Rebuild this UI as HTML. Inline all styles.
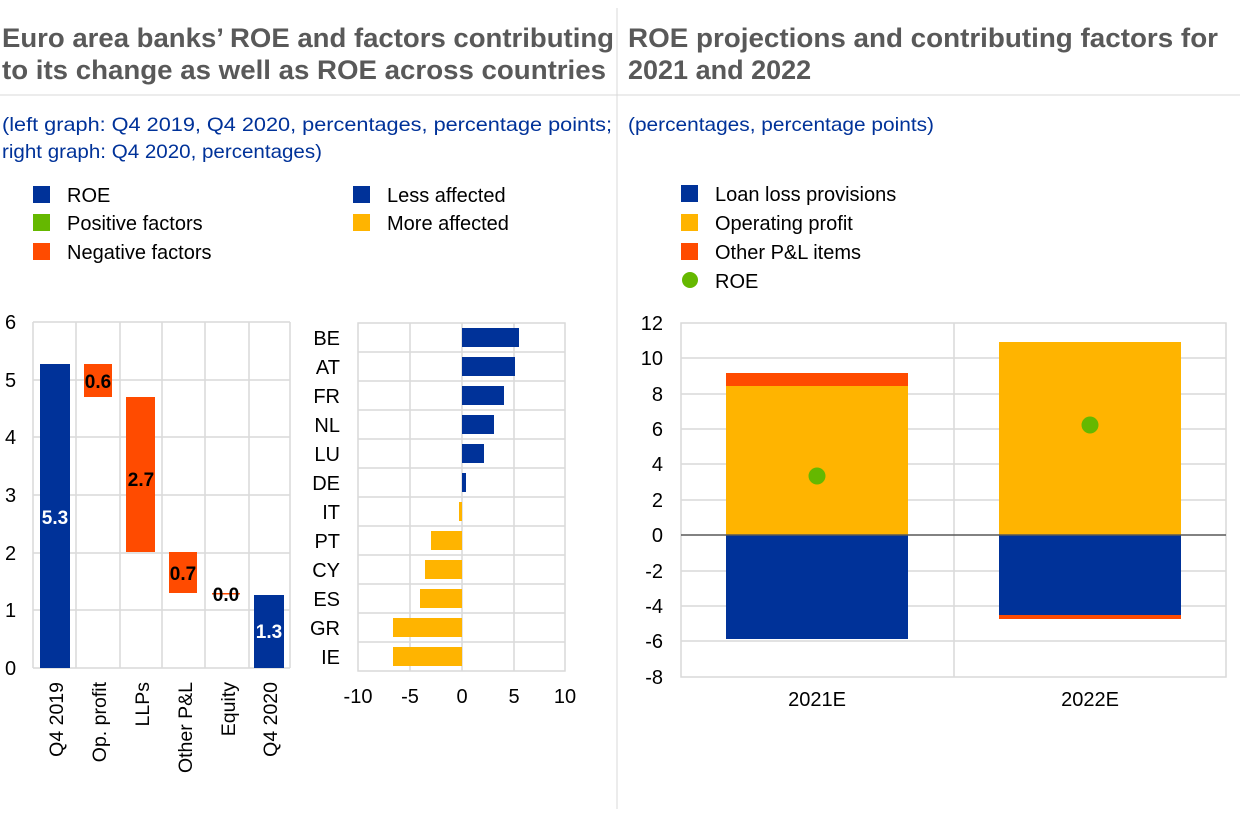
<!DOCTYPE html>
<html><head><style>
body{margin:0;width:1240px;height:809px;background:#fff;font-family:"Liberation Sans",Arial,sans-serif;overflow:hidden}
</style></head><body>
<svg width="1240" height="809" xmlns="http://www.w3.org/2000/svg" font-family="Liberation Sans, Arial, sans-serif">
<rect width="1240" height="809" fill="#fff"/>
<line x1="617" y1="8" x2="617" y2="809" stroke="#d9d9d9"/>
<line x1="0" y1="95" x2="1240" y2="95" stroke="#d9d9d9"/>
<g font-weight="bold" font-size="27" fill="#595959">
<text x="2" y="47" textLength="612" lengthAdjust="spacingAndGlyphs">Euro area banks’ ROE and factors contributing</text>
<text x="2" y="79" textLength="604" lengthAdjust="spacingAndGlyphs">to its change as well as ROE across countries</text>
<text x="628" y="47" textLength="590" lengthAdjust="spacingAndGlyphs">ROE projections and contributing factors for</text>
<text x="628" y="79">2021 and 2022</text>
</g>
<g font-size="19.5" fill="#003299">
<text x="2" y="131" textLength="610" lengthAdjust="spacingAndGlyphs">(left graph: Q4 2019, Q4 2020, percentages, percentage points;</text>
<text x="2" y="158" textLength="320" lengthAdjust="spacingAndGlyphs">right graph: Q4 2020, percentages)</text>
<text x="628" y="131" textLength="306" lengthAdjust="spacingAndGlyphs">(percentages, percentage points)</text>
</g>
<g font-size="20" fill="#000">
<rect x="33" y="186" width="17" height="17" fill="#003299"/><text x="67" y="202">ROE</text>
<rect x="33" y="214" width="17" height="17" fill="#65b800"/><text x="67" y="230">Positive factors</text>
<rect x="33" y="243" width="17" height="17" fill="#ff4b00"/><text x="67" y="259">Negative factors</text>
<rect x="353" y="186" width="17" height="17" fill="#003299"/><text x="387" y="202">Less affected</text>
<rect x="353" y="214" width="17" height="17" fill="#ffb400"/><text x="387" y="230">More affected</text>
<rect x="681" y="185" width="17" height="17" fill="#003299"/><text x="715" y="201">Loan loss provisions</text>
<rect x="681" y="214" width="17" height="17" fill="#ffb400"/><text x="715" y="230">Operating profit</text>
<rect x="681" y="243" width="17" height="17" fill="#ff4b00"/><text x="715" y="259">Other P&amp;L items</text>
<circle cx="690" cy="280" r="8" fill="#65b800"/><text x="715" y="288">ROE</text>
</g>
<!-- left chart -->
<g stroke="#d9d9d9" stroke-width="1.5">
<line x1="33" y1="322" x2="290" y2="322"/><line x1="33" y1="380" x2="290" y2="380"/><line x1="33" y1="437" x2="290" y2="437"/><line x1="33" y1="495" x2="290" y2="495"/><line x1="33" y1="553" x2="290" y2="553"/><line x1="33" y1="610" x2="290" y2="610"/><line x1="33" y1="668" x2="290" y2="668"/>
<line x1="33" y1="322" x2="33" y2="668"/><line x1="76" y1="322" x2="76" y2="668"/><line x1="120" y1="322" x2="120" y2="668"/><line x1="162" y1="322" x2="162" y2="668"/><line x1="205" y1="322" x2="205" y2="668"/><line x1="249" y1="322" x2="249" y2="668"/><line x1="290" y1="322" x2="290" y2="668"/>
</g>
<g font-size="20" fill="#000" text-anchor="start">
<text x="5" y="329">6</text><text x="5" y="387">5</text><text x="5" y="444">4</text><text x="5" y="502">3</text><text x="5" y="560">2</text><text x="5" y="617">1</text><text x="5" y="675">0</text>
</g>
<rect x="40" y="364" width="30" height="304" fill="#003299"/>
<rect x="84" y="364" width="28" height="33" fill="#ff4b00"/>
<rect x="126" y="397" width="29" height="155" fill="#ff4b00"/>
<rect x="169" y="552" width="28" height="41" fill="#ff4b00"/>
<rect x="212" y="593" width="28" height="1.5" fill="#ff4b00"/>
<rect x="254" y="595" width="30" height="73" fill="#003299"/>
<g font-size="19" font-weight="bold" text-anchor="middle">
<text x="55" y="524" fill="#fff">5.3</text>
<text x="98" y="388" fill="#000">0.6</text>
<text x="141" y="486" fill="#000">2.7</text>
<text x="183" y="580" fill="#000">0.7</text>
<text x="226" y="601" fill="#000">0.0</text>
<text x="269" y="638" fill="#fff">1.3</text>
</g>
<g font-size="19.5" fill="#000" text-anchor="end">
<text transform="translate(63,682) rotate(-90)">Q4 2019</text>
<text transform="translate(106,682) rotate(-90)">Op. profit</text>
<text transform="translate(149,682) rotate(-90)">LLPs</text>
<text transform="translate(192,682) rotate(-90)">Other P&amp;L</text>
<text transform="translate(235,682) rotate(-90)">Equity</text>
<text transform="translate(277,682) rotate(-90)">Q4 2020</text>
</g>
<!-- country chart -->
<g stroke="#d9d9d9" stroke-width="1.5">
<rect x="358" y="323" width="207" height="348" fill="none"/>
<line x1="410" y1="323" x2="410" y2="671"/><line x1="462" y1="323" x2="462" y2="671"/><line x1="514" y1="323" x2="514" y2="671"/>
<line x1="358" y1="352" x2="565" y2="352"/><line x1="358" y1="381" x2="565" y2="381"/><line x1="358" y1="410" x2="565" y2="410"/><line x1="358" y1="439" x2="565" y2="439"/><line x1="358" y1="468" x2="565" y2="468"/><line x1="358" y1="497" x2="565" y2="497"/><line x1="358" y1="526" x2="565" y2="526"/><line x1="358" y1="555" x2="565" y2="555"/><line x1="358" y1="584" x2="565" y2="584"/><line x1="358" y1="613" x2="565" y2="613"/><line x1="358" y1="642" x2="565" y2="642"/>
</g>
<g fill="#003299">
<rect x="462" y="328" width="57" height="19"/>
<rect x="462" y="357" width="53" height="19"/>
<rect x="462" y="386" width="42" height="19"/>
<rect x="462" y="415" width="32" height="19"/>
<rect x="462" y="444" width="22" height="19"/>
<rect x="462" y="473" width="4" height="19"/>
</g>
<g fill="#ffb400">
<rect x="459" y="502" width="3" height="19"/>
<rect x="431" y="531" width="31" height="19"/>
<rect x="425" y="560" width="37" height="19"/>
<rect x="420" y="589" width="42" height="19"/>
<rect x="393" y="618" width="69" height="19"/>
<rect x="393" y="647" width="69" height="19"/>
</g>
<g font-size="20" fill="#000" text-anchor="end">
<text x="340" y="345">BE</text><text x="340" y="374">AT</text><text x="340" y="403">FR</text><text x="340" y="432">NL</text><text x="340" y="461">LU</text><text x="340" y="490">DE</text><text x="340" y="519">IT</text><text x="340" y="548">PT</text><text x="340" y="577">CY</text><text x="340" y="606">ES</text><text x="340" y="635">GR</text><text x="340" y="664">IE</text>
</g>
<g font-size="20" fill="#000" text-anchor="middle">
<text x="358" y="703">-10</text><text x="410" y="703">-5</text><text x="462" y="703">0</text><text x="514" y="703">5</text><text x="565" y="703">10</text>
</g>
<!-- right chart -->
<g stroke="#d9d9d9" stroke-width="1.5">
<rect x="681" y="323" width="545" height="354" fill="none"/>
<line x1="954" y1="323" x2="954" y2="677"/>
<line x1="681" y1="358" x2="1226" y2="358"/><line x1="681" y1="394" x2="1226" y2="394"/><line x1="681" y1="429" x2="1226" y2="429"/><line x1="681" y1="464" x2="1226" y2="464"/><line x1="681" y1="500" x2="1226" y2="500"/><line x1="681" y1="571" x2="1226" y2="571"/><line x1="681" y1="606" x2="1226" y2="606"/><line x1="681" y1="641" x2="1226" y2="641"/>
</g>
<rect x="726" y="386" width="182" height="149" fill="#ffb400"/>
<rect x="726" y="373" width="182" height="13" fill="#ff4b00"/>
<rect x="726" y="535" width="182" height="104" fill="#003299"/>
<rect x="999" y="342" width="182" height="193" fill="#ffb400"/>
<rect x="999" y="535" width="182" height="80" fill="#003299"/>
<rect x="999" y="615" width="182" height="4" fill="#ff4b00"/>
<line x1="681" y1="535" x2="1226" y2="535" stroke="#595959" stroke-width="1.5"/>
<circle cx="817" cy="476" r="8.5" fill="#65b800"/>
<circle cx="1090" cy="425" r="8.5" fill="#65b800"/>
<g font-size="20" fill="#000" text-anchor="end">
<text x="663" y="330">12</text><text x="663" y="365">10</text><text x="663" y="401">8</text><text x="663" y="436">6</text><text x="663" y="471">4</text><text x="663" y="507">2</text><text x="663" y="542">0</text><text x="663" y="578">-2</text><text x="663" y="613">-4</text><text x="663" y="648">-6</text><text x="663" y="684">-8</text>
</g>
<g font-size="20" fill="#000" text-anchor="middle">
<text x="817" y="706">2021E</text><text x="1090" y="706">2022E</text>
</g>
</svg>
</body></html>
